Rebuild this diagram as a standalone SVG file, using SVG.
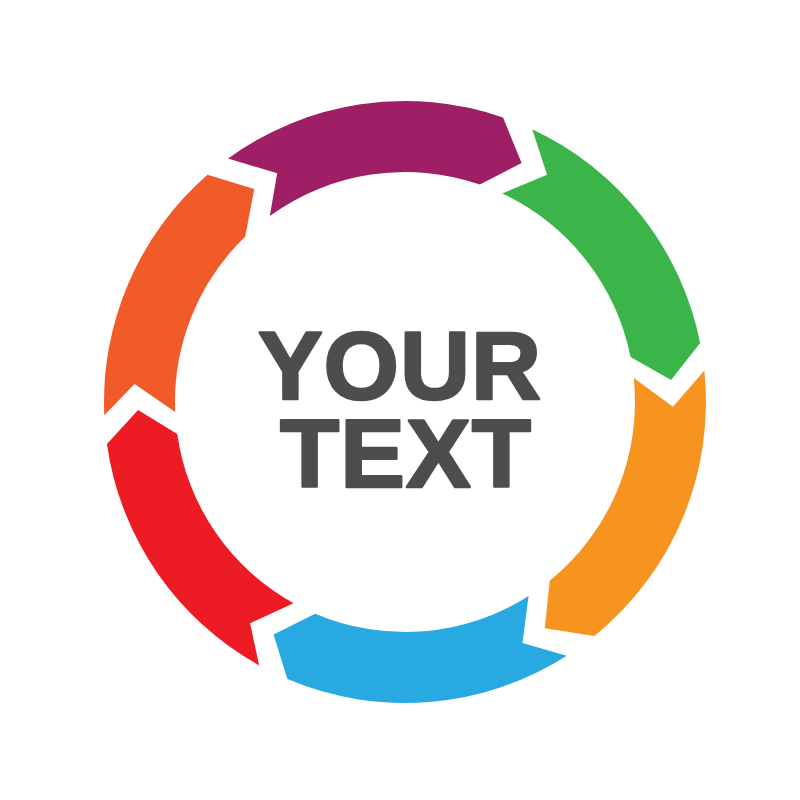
<svg xmlns="http://www.w3.org/2000/svg" width="800" height="800" viewBox="0 0 800 800">
<style>
.t{font-family:"Liberation Sans",Arial,sans-serif;font-weight:bold;font-size:97px;fill:#4D4D4D;stroke:#4D4D4D;stroke-width:2.5;stroke-linejoin:round;text-anchor:middle;letter-spacing:1px}
</style>
<rect width="800" height="800" fill="#FFFFFF"/>
<g id="connectors"></g>
<g id="seg-purple"><path fill="#9E1F66" d="M228.07,158.49 A301,301 0 0 1 503.00,117.40 L521.61,162.92 L479.88,184.53 A230,230 0 0 0 269.81,215.93 L277.18,173.29 Z"/></g>
<g id="seg-green"><path fill="#3BB54A" d="M532.21,129.20 A301,301 0 0 1 700.16,343.02 L671.10,380.12 L630.54,356.93 A230,230 0 0 0 502.20,193.55 L547.02,174.72 Z"/></g>
<g id="seg-orange"><path fill="#F7941F" d="M704.35,370.54 A301,301 0 0 1 594.43,635.92 L544.78,628.32 L549.74,580.74 A230,230 0 0 0 633.74,377.96 L672.96,406.68 Z"/></g>
<g id="seg-blue"><path fill="#29A9E1" d="M566.73,655.86 A301,301 0 0 1 287.39,679.07 L273.52,634.39 L315.13,613.72 A230,230 0 0 0 528.58,595.98 L522.48,642.88 Z"/></g>
<g id="seg-red"><path fill="#ED1C24" d="M259.07,665.26 A301,301 0 0 1 106.93,443.89 L138.12,409.92 L177.24,434.01 A230,230 0 0 0 293.49,603.16 L250.13,623.17 Z"/></g>
<g id="seg-orangered"><path fill="#F15A29" d="M104.29,415.13 A301,301 0 0 1 207.53,174.83 L254.25,188.94 L245.23,236.55 A230,230 0 0 0 175.22,412.03 L134.60,384.04 Z"/></g>
<g id="label">
<text class="t"><tspan x="400" y="399">YOUR</tspan><tspan x="406" y="487">TEXT</tspan></text>
</g>
</svg>
